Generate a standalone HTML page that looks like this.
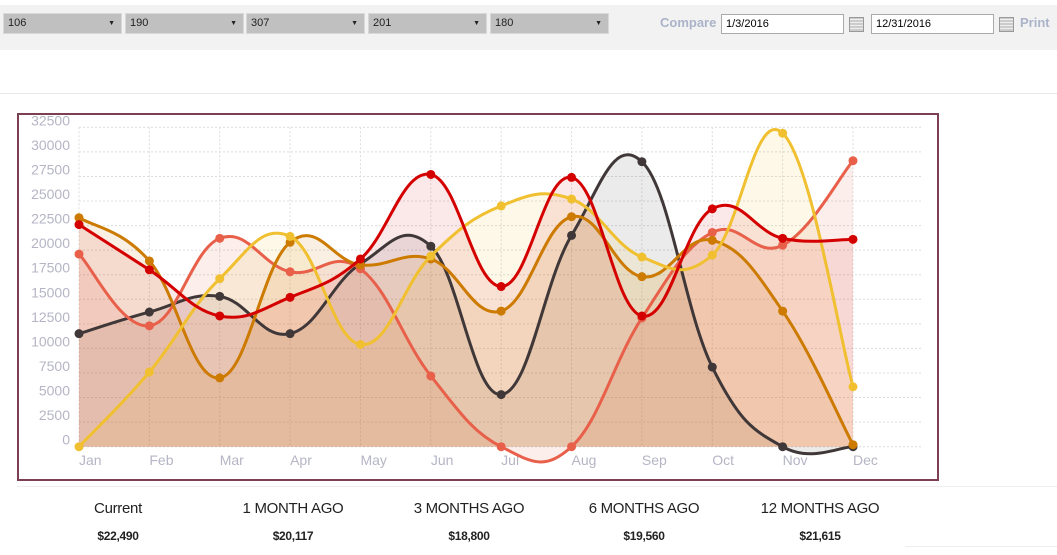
<!DOCTYPE html>
<html><head><meta charset="utf-8"><style>
body{margin:0;width:1057px;height:555px;background:#fff;font-family:"Liberation Sans",sans-serif;position:relative;overflow:hidden}
.bar{position:absolute;left:0;top:5px;width:1057px;height:45px;background:#f2f2f2}
.sel{position:absolute;top:13px;height:21px;width:119px;background:#c0c0c0;border:1px solid #d8d8d8;box-sizing:border-box;font-size:11px;line-height:19px;padding-left:4px;color:#222}
.sel:after{content:"▼";position:absolute;right:6px;top:0;font-size:7px}
.inp{position:absolute;top:14px;height:20px;width:123px;border:1px solid #aaa;background:#fff;box-sizing:border-box;font-size:11px;line-height:18px;padding-left:4px}
.cal{position:absolute;top:17px;width:13px;height:13px;border:1px solid #999;background:repeating-linear-gradient(0deg,#ccc 0 2px,#eee 2px 3px)}
.lab{position:absolute;color:#aab3c8;font-size:13px;font-weight:bold;top:15px}
.sum{position:absolute;width:160px;text-align:center}
.sum .t{font-size:15px;color:#222;position:absolute;top:500px;width:160px;letter-spacing:-0.3px}
.sum .v{font-size:12px;font-weight:bold;color:#222;position:absolute;top:529px;width:160px;letter-spacing:-0.3px}
</style></head><body>
<div class="bar"></div>
<div class="sel" style="left:3px">106</div>
<div class="sel" style="left:125px">190</div>
<div class="sel" style="left:246px">307</div>
<div class="sel" style="left:368px">201</div>
<div class="sel" style="left:490px">180</div>
<div class="lab" style="left:660px">Compare</div>
<div class="inp" style="left:721px">1/3/2016</div>
<div class="cal" style="left:849px"></div>
<div class="inp" style="left:871px">12/31/2016</div>
<div class="cal" style="left:999px"></div>
<div class="lab" style="left:1020px">Print</div>
<div style="position:absolute;left:0;top:93px;width:1057px;height:1px;background:#e8e8e8"></div>
<div style="position:absolute;left:17px;top:113px;width:922px;height:368px;border:2px solid #7d3f52;box-sizing:border-box"></div>
<svg id="chart" style="position:absolute;left:0;top:0" width="1057" height="555"></svg>
<div style="position:absolute;left:17px;top:486px;width:1040px;height:1px;background:#eee"></div>
<div style="position:absolute;left:905px;top:546px;width:152px;height:1px;background:#eee"></div>
<div class="sum" style="left:38px"><div class="t">Current</div><div class="v">$22,490</div></div>
<div class="sum" style="left:213px"><div class="t">1 MONTH AGO</div><div class="v">$20,117</div></div>
<div class="sum" style="left:389px"><div class="t">3 MONTHS AGO</div><div class="v">$18,800</div></div>
<div class="sum" style="left:564px"><div class="t">6 MONTHS AGO</div><div class="v">$19,560</div></div>
<div class="sum" style="left:740px"><div class="t">12 MONTHS AGO</div><div class="v">$21,615</div></div>
<script>
const months=["Jan","Feb","Mar","Apr","May","Jun","Jul","Aug","Sep","Oct","Nov","Dec"];
const yTicks=[0,2500,5000,7500,10000,12500,15000,17500,20000,22500,25000,27500,30000,32500];
const seriesRed=[22600,18000,13300,15200,19100,27700,16300,27400,13300,24200,21200,21100];
const seriesSalmon=[19600,12300,21200,17800,18100,7200,0,0,13100,21800,20500,29100];
const seriesOrange=[23300,18900,7000,20800,18500,19100,13800,23400,17300,21000,13800,200];
const seriesYellow=[0,7600,17100,21400,10400,19400,24500,25200,19300,19500,31900,6100];
const seriesDark=[11500,13700,15300,11500,18600,20400,5300,21500,29000,8100,0,0];
const NS="http://www.w3.org/2000/svg",svg=document.getElementById('chart');
const x0=79,x1=853,yBase=446.7,yTop=127.3,yMax=32500,gridRight=922;
const X=i=>x0+i*(x1-x0)/(months.length-1);
const Y=v=>yBase-(v/yMax)*(yBase-yTop);
function mk(t,a){const e=document.createElementNS(NS,t);for(const k in a)e.setAttribute(k,a[k]);svg.appendChild(e);return e;}
yTicks.forEach(t=>{
 const l=mk('line',{x1:x0,x2:gridRight,y1:Y(t),y2:Y(t),stroke:'#dcdcdc','stroke-dasharray':'2,2'});
 
 
 const tx=mk('text',{x:70,y:Y(t)-2,'text-anchor':'end','font-size':'14',fill:'#b5b5c5','font-family':'Liberation Sans, sans-serif'});
 tx.textContent=t;
 
 
});
months.forEach((m,i)=>{
 const l=mk('line',{x1:X(i),x2:X(i),y1:yTop,y2:yBase,stroke:'#dcdcdc','stroke-dasharray':'2,2'});
 
 
 const tx=mk('text',{x:X(i),y:465,'font-size':'14',fill:'#b5b5c5','font-family':'Liberation Sans, sans-serif'});
 tx.textContent=m;
 
 
});
function pathFor(vals){
 const p=vals.map((v,i)=>[X(i),Y(v)]);const t=0.4;
 let d=`M${p[0][0]},${p[0][1]}`;
 for(let i=0;i<p.length-1;i++){
  const p0=p[i-1]||p[i],p1=p[i],p2=p[i+1],p3=p[i+2]||p[i+1];
  const c1=[p1[0]+(p2[0]-p0[0])*t/2,p1[1]+(p2[1]-p0[1])*t/2];
  const c2=[p2[0]-(p3[0]-p1[0])*t/2,p2[1]-(p3[1]-p1[1])*t/2];
  d+=` C${c1[0]},${c1[1]} ${c2[0]},${c2[1]} ${p2[0]},${p2[1]}`;
 }
 return d;
}
const defs=[[seriesDark,'#403838','rgba(64,56,56,0.1)','series-dark'],[seriesSalmon,'#e8604a','rgba(232,96,74,0.11)','series-salmon'],[seriesOrange,'#cc7a00','rgba(204,122,0,0.11)','series-orange'],[seriesYellow,'#f0c030','rgba(240,192,48,0.11)','series-yellow'],[seriesRed,'#d40000','rgba(212,0,0,0.09)','series-red']];
defs.forEach(([vals,c,f,n])=>{
 const d=pathFor(vals);
 const a=mk('path',{d:d+` L${X(vals.length-1)},${yBase} L${X(0)},${yBase} Z`,fill:f,stroke:'none'});
 
 
});
defs.forEach(([vals,c,f,n])=>{
 const l=mk('path',{d:pathFor(vals),fill:'none',stroke:c,'stroke-width':'3'});
 
 
 vals.forEach((v,i)=>{
  const pt=mk('circle',{cx:X(i),cy:Y(v),r:4.5,fill:c});
  
  
 });
});
</script>
</body></html>
